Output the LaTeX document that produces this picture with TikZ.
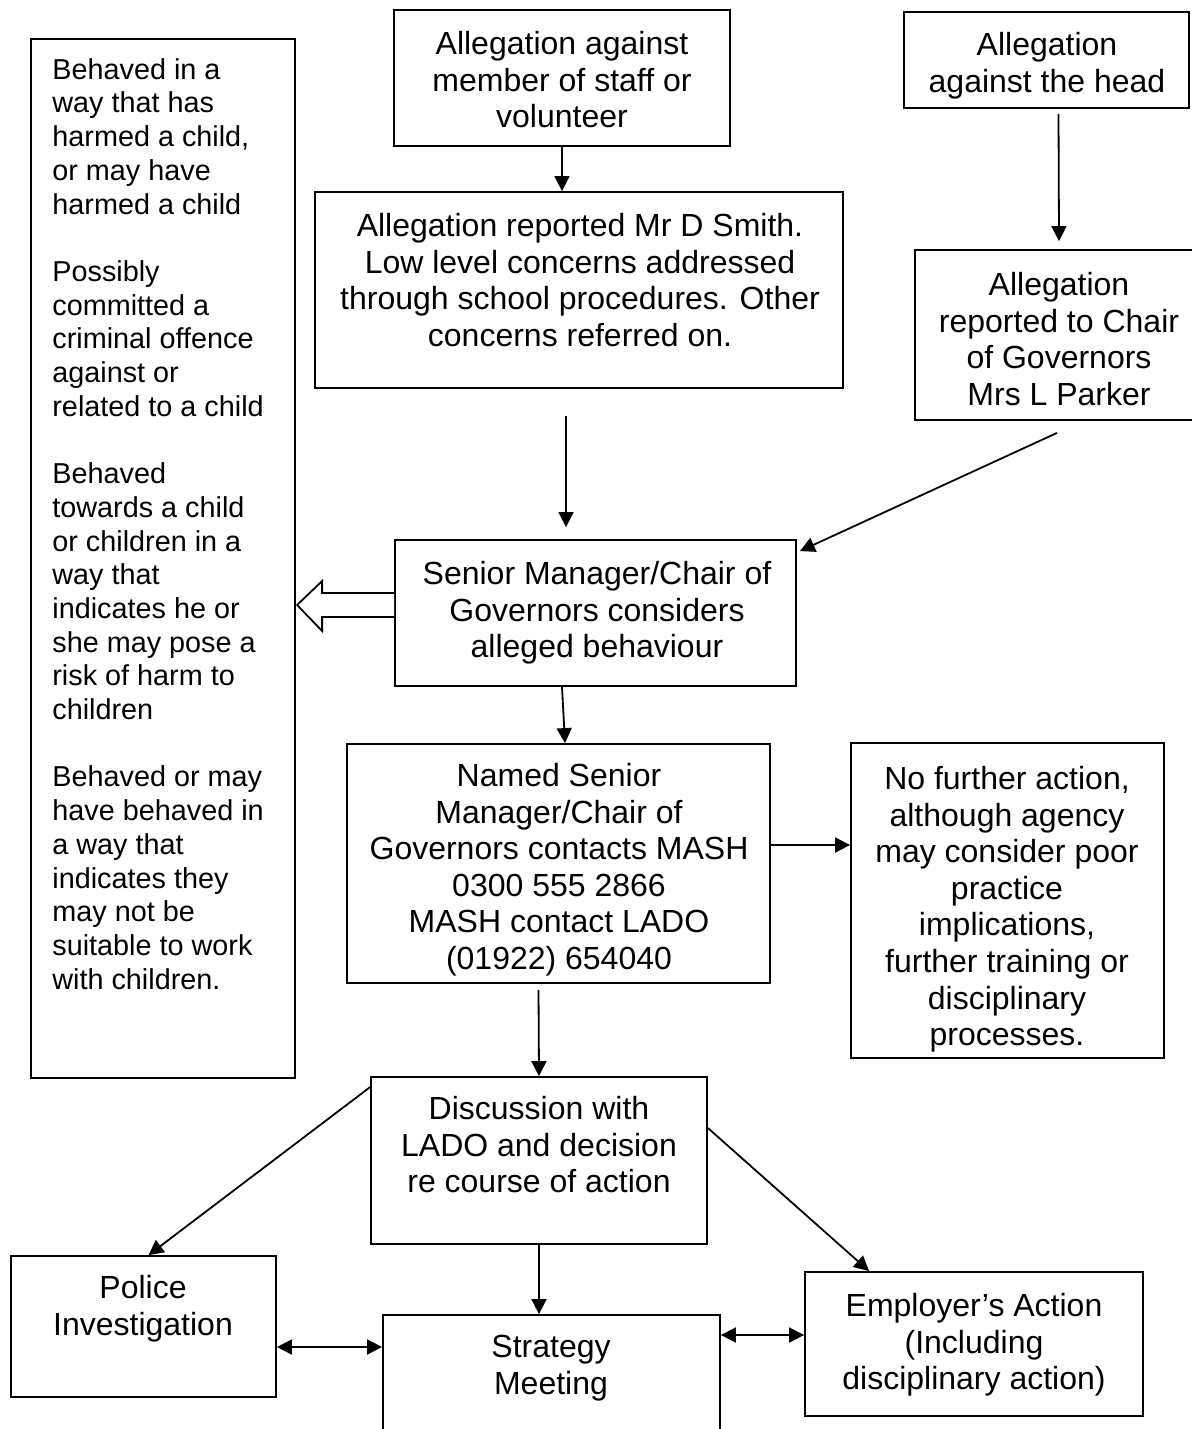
\documentclass[tikz,border=0pt]{standalone}
\usepackage{fontspec}
\setmainfont{Liberation Sans}
\usetikzlibrary{arrows.meta,fit,calc}
\tikzset{
  box/.style={draw, line width=0.9pt, inner sep=0pt},
  txt/.style={font=\fontsize{16}{18.3}\selectfont, align=center, inner sep=0pt, anchor=north},
  ltxt/.style={font=\fontsize{14.4}{16.85}\selectfont, align=left, inner sep=0pt, anchor=north west},
  arr/.style={line width=0.9pt, -{Triangle[length=7.5pt,width=7.5pt]}},
  darr/.style={line width=0.9pt, {Triangle[length=7.5pt,width=7.5pt]}-{Triangle[length=7.5pt,width=7.5pt]}},
  hollow/.style={line width=0.9pt, line join=miter, fill=white}
}
\begin{document}
\begin{tikzpicture}[x=0.5pt,y=-0.5pt]
\useasboundingbox[fill=white] (0,0) rectangle (1192,1429);
\begin{scope}
\clip (0,0) rectangle (1192,1429);
% boxes
\node[box, fit={(31,39) (295,1078)}] (L) {};
\node[box, fit={(394,10) (730,146)}] (A) {};
\node[box, fit={(904,12) (1189,108)}] (H) {};
\node[box, fit={(315,192) (843,388)}] (C) {};
\node[box, fit={(915,250) (1203,420)}] (Ch) {};
\node[box, fit={(395,540) (796,686)}] (S) {};
\node[box, fit={(347,744) (770,983)}] (N) {};
\node[box, fit={(851,743) (1164,1058)}] (F) {};
\node[box, fit={(371,1077) (707,1244)}] (D) {};
\node[box, fit={(11,1256) (276,1397)}] (P) {};
\node[box, fit={(383,1315) (720,1445)}] (M) {};
\node[box, fit={(805,1272) (1143,1416)}] (E) {};
% texts
\node[txt] (tA) at (562,31) {Allegation against\\member of staff or\\volunteer};
\node[txt] (tH) at (1047,32) {Allegation\\against the head};
\node[txt] (tC) at (580,213) {Allegation reported Mr D Smith.\\Low level concerns addressed\\through school procedures. Other\\concerns referred on.};
\node[txt] (tCh) at (1059,272) {Allegation\\reported to Chair\\of Governors\\Mrs L Parker};
\node[txt] (tS) at (597,561) {Senior Manager/Chair of\\Governors considers\\alleged behaviour};
\node[txt] (tN) at (559,763) {Named Senior\\Manager/Chair of\\Governors contacts MASH\\0300 555 2866\\MASH contact LADO\\(01922) 654040};
\node[txt] (tF) at (1007,766) {No further action,\\although agency\\may consider poor\\practice\\implications,\\further training or\\disciplinary\\processes.};
\node[txt] (tD) at (539,1096) {Discussion with\\LADO and decision\\re course of action};
\node[txt] (tP) at (143,1275) {Police\\Investigation};
\node[txt] (tM) at (551,1335) {Strategy\\Meeting};
\node[txt] (tE) at (974,1293) {Employer’s Action\\(Including\\disciplinary action)};
\node[ltxt] (tL) at (52,58) {Behaved in a\\way that has\\harmed a child,\\or may have\\harmed a child\\[16.85pt]Possibly\\committed a\\criminal offence\\against or\\related to a child\\[16.85pt]Behaved\\towards a child\\or children in a\\way that\\indicates he or\\she may pose a\\risk of harm to\\children\\[16.85pt]Behaved or may\\have behaved in\\a way that\\indicates they\\may not be\\suitable to work\\with children.};
% helper coordinates
\coordinate (n1) at ($(N.east)+(0,-18.5)$);
\coordinate (p1) at ($(P.east)+(0,20.5)$);
\coordinate (e1) at ($(E.west)+(0,-9)$);
% connectors
\draw[arr] (A.south) -- (A.south |- C.north);
\draw[arr] ($(H.south)+(12,5)$) -- ($(Ch.north)+(0,-8)$);
\draw[arr] ($(C.south)+(-13,27)$) -- ($(S.north)+(-29.5,-12)$);
\draw[arr] ($(Ch.south)+(-2,12)$) -- ($(S.north east)+(3,12)$);
\draw[arr] ($(S.south)+(-33.5,0)$) -- ($(N.north)+(6.5,0)$);
\draw[arr] (n1) -- (F.west |- n1);
\draw[arr] ($(N.south)+(-20,6)$) -- (D.north);
\draw[arr] ($(D.north west)+(0,11)$) -- ($(P.north)+(5,0)$);
\draw[arr] ($(D.east)+(0,-32.5)$) -- ($(E.north west)+(65,0)$);
\draw[arr] (D.south) -- (D.south |- M.north);
\draw[darr] (p1) -- (M.west |- p1);
\draw[darr] (M.east |- e1) -- (e1);
% hollow block arrow from S towards L
\draw[hollow] ($(S.west)+(0,-20)$) -- ++(-72,0) -- ++(0,-12) -- ++(-25,24) -- ++(25,26) -- ++(0,-14) -- ++(72,0);
\end{scope}
\end{tikzpicture}
\end{document}
